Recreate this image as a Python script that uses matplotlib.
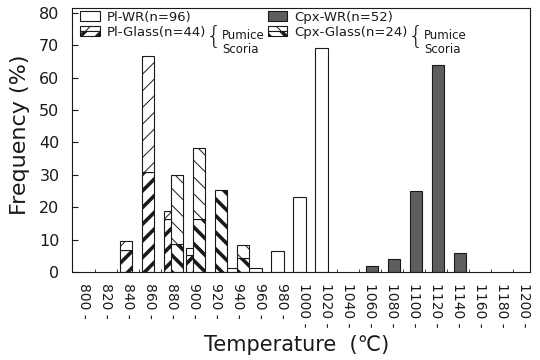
import matplotlib
matplotlib.use("Agg")
import matplotlib.pyplot as plt
import numpy as np
from matplotlib.patches import Rectangle
from matplotlib.legend_handler import HandlerBase

# Temperaturklassen (20 degC breit)
temps = list(range(800, 1201, 20))

# Haeufigkeiten in %
pl_wr = [0, 0, 0, 0, 0, 0, 0, 1.2, 1.2, 6.5, 23, 69, 0, 0, 0, 0, 0, 0, 0, 0, 0]
cpx_wr = [0, 0, 0, 0, 0, 0, 0, 0, 0, 0, 0, 0, 0, 1.9, 3.9, 25, 63.8, 5.8, 0, 0, 0]
pl_glass_scoria = [0, 0, 6.8, 30.9, 16.3, 5.2, 0, 0, 0, 0, 0, 0, 0, 0, 0, 0, 0, 0, 0, 0, 0]
pl_glass_pumice = [0, 0, 2.7, 35.9, 2.5, 2.1, 0, 0, 0, 0, 0, 0, 0, 0, 0, 0, 0, 0, 0, 0, 0]
cpx_glass_scoria = [0, 0, 0, 0, 8.5, 16.5, 25.4, 4.4, 0, 0, 0, 0, 0, 0, 0, 0, 0, 0, 0, 0, 0]
cpx_glass_pumice = [0, 0, 0, 0, 21.3, 21.7, 0, 4.0, 0, 0, 0, 0, 0, 0, 0, 0, 0, 0, 0, 0, 0]

legend_labels = ["Pl-WR(n=96)", "Pl-Glass(n=44)", "Cpx-WR(n=52)", "Cpx-Glass(n=24)"]

INK = "#1a1a1a"
GREY = "#5e5e5e"
WIDTH = 0.55
THIN_HATCH = 0.7
THICK_HATCH = 2.6


def set_hatch_lw(patch, lw):
    # ab matplotlib 3.10 pro Patch einstellbar
    if hasattr(patch, "set_hatch_linewidth"):
        patch.set_hatch_linewidth(lw)


def draw_bars(ax, values, offset, bottom=None, face="white", hatch=None, hatch_lw=THIN_HATCH):
    values = np.asarray(values, dtype=float)
    x = np.arange(len(values)) + offset
    base = np.zeros_like(values) if bottom is None else np.asarray(bottom, dtype=float)
    mask = values > 0
    bars = ax.bar(x[mask], values[mask], bottom=base[mask], width=WIDTH,
                  facecolor=face, edgecolor=INK, linewidth=0.8, hatch=hatch)
    for b in bars:
        set_hatch_lw(b, hatch_lw)
    return bars


class GlassKey:
    def __init__(self, hatch):
        self.hatch = hatch


class GlassHandler(HandlerBase):
    # Legendenkaestchen: oben Bims (duenn), unten Schlacke (dick)
    def create_artists(self, legend, orig_handle, xdescent, ydescent,
                       width, height, fontsize, trans):
        top = Rectangle((-xdescent, -ydescent + height / 2), width, height / 2,
                        facecolor="white", edgecolor=INK, lw=0.8,
                        hatch=orig_handle.hatch, transform=trans)
        bot = Rectangle((-xdescent, -ydescent), width, height / 2,
                        facecolor="white", edgecolor=INK, lw=0.8,
                        hatch=orig_handle.hatch, transform=trans)
        set_hatch_lw(top, THIN_HATCH)
        set_hatch_lw(bot, THICK_HATCH)
        return [top, bot]


def main():
    plt.rcParams["font.family"] = ["DejaVu Sans"]
    plt.rcParams["hatch.linewidth"] = THIN_HATCH

    fig = plt.figure(figsize=(5.4, 3.6), dpi=100)
    ax = fig.add_axes([72 / 540, 88 / 360, 458 / 540, 264 / 360])

    # Reihenfolge: Cpx liegt ueber Pl
    draw_bars(ax, pl_wr, -0.25)
    draw_bars(ax, pl_glass_scoria, -0.12, hatch="//", hatch_lw=THICK_HATCH)
    draw_bars(ax, pl_glass_pumice, -0.12, bottom=pl_glass_scoria, hatch="//")
    draw_bars(ax, cpx_wr, 0.05, face=GREY)
    draw_bars(ax, cpx_glass_scoria, 0.2, hatch="\\\\", hatch_lw=THICK_HATCH)
    draw_bars(ax, cpx_glass_pumice, 0.2, bottom=cpx_glass_scoria, hatch="\\\\")

    n = len(temps)
    ax.set_xlim(-0.59, n - 1 + 0.23)
    ax.set_ylim(0, 81.5)

    ax.set_xticks(np.arange(n) - 0.03, labels=[f"{t} -" for t in temps])
    ax.set_xticks(np.arange(n - 1) + 0.45, minor=True)
    ax.tick_params(axis="x", which="major", length=0, pad=8, labelsize=10,
                   labelrotation=-90, colors=INK)
    for lab in ax.get_xticklabels():
        lab.set_va("top")
    ax.tick_params(axis="x", which="minor", direction="in", length=2.5, color=INK)

    ax.set_yticks(np.arange(0, 81, 10))
    ax.tick_params(axis="y", direction="in", length=4, pad=9, labelsize=11.5,
                   colors=INK)

    for sp in ax.spines.values():
        sp.set_linewidth(0.8)
        sp.set_color(INK)

    ax.set_xlabel("Temperature  (℃)", fontsize=15, color=INK)
    ax.xaxis.set_label_coords(0.49, -0.277)
    ax.xaxis.label.set_va("center")
    ax.set_ylabel("Frequency (%)", fontsize=16, color=INK, va="center")
    ax.yaxis.set_label_coords(-0.113, 0.52)

    # Legende
    handles = [Rectangle((0, 0), 1, 1, facecolor="white", edgecolor=INK, lw=0.8),
               GlassKey("//"),
               Rectangle((0, 0), 1, 1, facecolor=GREY, edgecolor=INK, lw=0.8),
               GlassKey("\\\\")]
    leg = ax.legend(handles, legend_labels, ncol=2, loc="upper left",
                    bbox_to_anchor=(0.0, 1.02), frameon=False, fontsize=9.5,
                    handlelength=1.5, handleheight=0.75, handletextpad=0.5,
                    labelspacing=0.15, columnspacing=4.7, borderaxespad=0.3,
                    borderpad=0.3, handler_map={GlassKey: GlassHandler()})
    for t in leg.get_texts():
        t.set_color(INK)

    # Klammer mit Bims / Schlacke hinter den Glas-Eintraegen
    # (zorder ueber der Legende, damit deren Position schon feststeht)
    for t in (leg.get_texts()[1], leg.get_texts()[3]):
        brace = ax.annotate("{", xy=(1, 1), xycoords=t, xytext=(0, 0.5),
                            textcoords="offset points", ha="left", va="top",
                            fontsize=18, color=INK, fontweight="light",
                            zorder=10)
        ax.annotate("Pumice\nScoria", xy=(1, 1), xycoords=brace,
                    xytext=(0.5, -3.0), textcoords="offset points", ha="left",
                    va="top", fontsize=8.5, linespacing=1.05, color=INK,
                    zorder=11)

    fig.savefig("out.png", dpi=100)


if __name__ == "__main__":
    main()
